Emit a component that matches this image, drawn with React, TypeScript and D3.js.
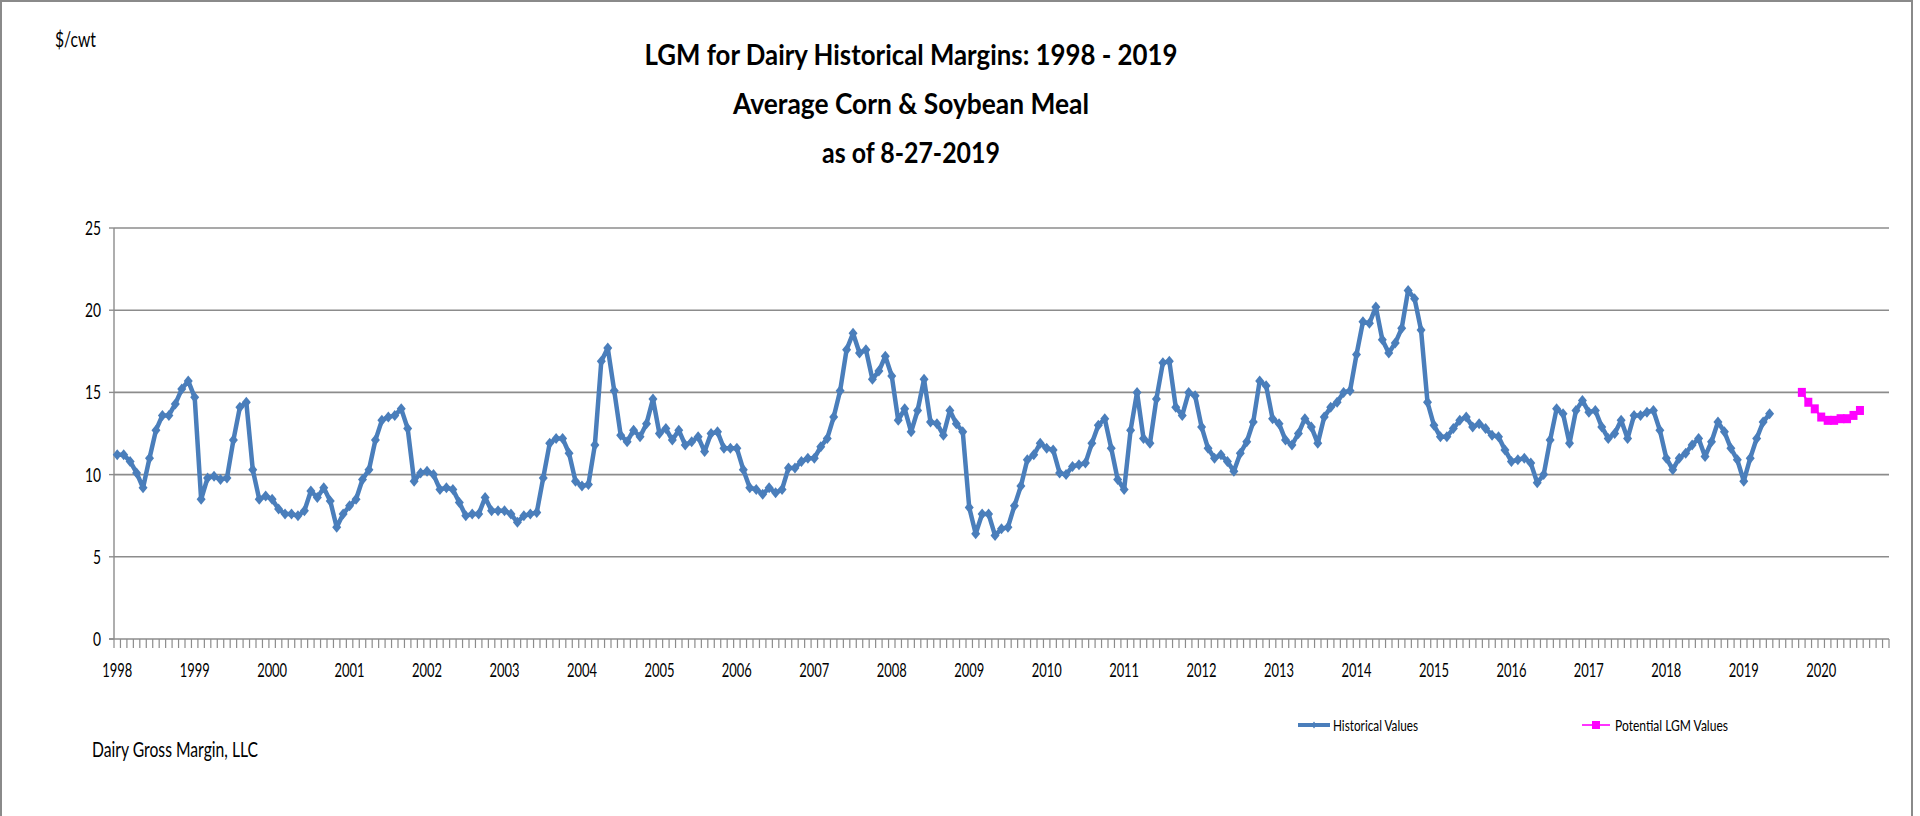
import { useEffect, useRef } from "react";
import * as d3 from "d3";

// ---- data ($/cwt, monthly) ----
const yearLabels = [
  "1998", "1999", "2000", "2001", "2002", "2003", "2004", "2005",
  "2006", "2007", "2008", "2009", "2010", "2011", "2012", "2013",
  "2014", "2015", "2016", "2017", "2018", "2019", "2020",
];
const monthNames = ["Jan", "Feb", "Mar", "Apr", "May", "Jun", "Jul", "Aug", "Sep", "Oct", "Nov", "Dec"];

// Historical Values, Jan 1998 .. May 2019 (one row per year)
const historicalValues = [
  11.2, 11.2, 10.8, 10.1, 9.2, 11.0, 12.7, 13.6, 13.6, 14.3, 15.2, 15.7,
  14.7, 8.5, 9.8, 9.9, 9.7, 9.8, 12.1, 14.1, 14.4, 10.3, 8.5, 8.7,
  8.5, 7.9, 7.6, 7.6, 7.5, 7.8, 9.0, 8.6, 9.2, 8.4, 6.8, 7.6,
  8.1, 8.5, 9.7, 10.3, 12.1, 13.3, 13.5, 13.6, 14.0, 12.8, 9.6, 10.1,
  10.2, 10.0, 9.1, 9.2, 9.1, 8.3, 7.5, 7.6, 7.6, 8.6, 7.8, 7.8,
  7.8, 7.6, 7.1, 7.5, 7.6, 7.7, 9.8, 11.9, 12.2, 12.2, 11.3, 9.6,
  9.3, 9.4, 11.8, 16.9, 17.7, 15.1, 12.4, 12.0, 12.7, 12.3, 13.1, 14.6,
  12.5, 12.8, 12.1, 12.7, 11.8, 12.0, 12.3, 11.4, 12.5, 12.6, 11.6, 11.6,
  11.6, 10.3, 9.2, 9.1, 8.8, 9.2, 8.9, 9.1, 10.4, 10.4, 10.8, 11.0,
  11.0, 11.7, 12.2, 13.5, 15.1, 17.6, 18.6, 17.4, 17.6, 15.8, 16.3, 17.2,
  16.0, 13.3, 14.0, 12.6, 13.9, 15.8, 13.2, 13.1, 12.4, 13.9, 13.1, 12.6,
  8.0, 6.4, 7.6, 7.6, 6.3, 6.7, 6.8, 8.1, 9.3, 10.9, 11.2, 11.9,
  11.6, 11.5, 10.1, 10.0, 10.5, 10.6, 10.7, 11.9, 13.0, 13.4, 11.6, 9.7,
  9.1, 12.7, 15.0, 12.2, 11.9, 14.6, 16.8, 16.9, 14.1, 13.6, 15.0, 14.8,
  12.9, 11.6, 11.0, 11.2, 10.8, 10.2, 11.3, 12.0, 13.2, 15.7, 15.4, 13.4,
  13.1, 12.1, 11.8, 12.5, 13.4, 12.9, 11.9, 13.5, 14.1, 14.4, 15.0, 15.1,
  17.3, 19.3, 19.2, 20.2, 18.2, 17.4, 18.0, 18.9, 21.2, 20.7, 18.8, 14.4,
  13.0, 12.3, 12.3, 12.8, 13.3, 13.5, 12.9, 13.1, 12.8, 12.4, 12.3, 11.5,
  10.8, 10.9, 11.0, 10.7, 9.5, 10.0, 12.1, 14.0, 13.7, 11.9, 13.9, 14.5,
  13.8, 13.9, 12.9, 12.2, 12.5, 13.3, 12.2, 13.6, 13.6, 13.8, 13.9, 12.7,
  11.0, 10.3, 11.0, 11.3, 11.8, 12.2, 11.1, 12.0, 13.2, 12.6, 11.6, 10.9,
  9.6, 11.0, 12.2, 13.2, 13.7,
];

// Potential LGM Values, Oct 2019 .. Jul 2020
const lgmMonths = [
  "Oct 2019", "Nov 2019", "Dec 2019", "Jan 2020", "Feb 2020",
  "Mar 2020", "Apr 2020", "May 2020", "Jun 2020", "Jul 2020",
];
const lgmValues = [15.0, 14.4, 14.0, 13.5, 13.3, 13.3, 13.4, 13.4, 13.6, 13.9];

const yTicks = [0, 5, 10, 15, 20, 25];

// axis runs Jan 1998 .. Nov 2020
const categories = yearLabels
  .flatMap((y) => monthNames.map((m) => `${m} ${y}`))
  .slice(0, 275);

const FONT = "Lato, 'Open Sans', sans-serif";
const BLUE = "#4a7ebb";
const PINK = "#ff00ff";
const GRID = "#8c8c8c";

export default function App() {
  const svgRef = useRef<SVGSVGElement>(null);

  useEffect(() => {
    document.body.style.margin = "0";
    if (!svgRef.current) return;
    const svg = d3.select(svgRef.current);
    svg.selectAll("*").remove();

    const left = 114;
    const right = 1889;
    const top = 228;
    const bottom = 639;

    const x = d3.scaleBand<string>().domain(categories).range([left, right]).padding(0);
    const xc = (c: string) => (x(c) ?? 0) + x.bandwidth() / 2;
    const y = d3.scaleLinear().domain([0, 25]).range([bottom, top]);

    const text = (
      str: string,
      tx: number,
      ty: number,
      size: number,
      len: number,
      anchor = "start",
      weight = "normal"
    ) =>
      svg
        .append("text")
        .attr("x", tx)
        .attr("y", ty)
        .attr("text-anchor", anchor)
        .attr("textLength", len)
        .attr("lengthAdjust", "spacingAndGlyphs")
        .style("font-family", FONT)
        .style("font-size", `${size}px`)
        .style("font-weight", weight)
        .style("fill", "#000")
        .text(str);

    // outer frame
    svg
      .append("rect")
      .attr("x", 1)
      .attr("y", 1)
      .attr("width", 1911)
      .attr("height", 840)
      .attr("fill", "#fff")
      .attr("stroke", "#8a8a8a")
      .attr("stroke-width", 2);

    // titles
    text("LGM for Dairy Historical Margins: 1998 - 2019", 911, 65, 28, 533, "middle", "bold");
    text("Average Corn & Soybean Meal", 911, 114, 28, 356, "middle", "bold");
    text("as of 8-27-2019", 911, 163, 28, 178, "middle", "bold");
    text("$/cwt", 55, 47, 21, 41);

    // gridlines
    svg
      .append("g")
      .selectAll("line")
      .data(yTicks.filter((t) => t > 0))
      .join("line")
      .attr("x1", left)
      .attr("x2", right)
      .attr("y1", (d) => y(d))
      .attr("y2", (d) => y(d))
      .attr("stroke", GRID)
      .attr("stroke-width", 1.6);

    // axes
    svg
      .append("line")
      .attr("x1", left)
      .attr("x2", left)
      .attr("y1", top)
      .attr("y2", bottom)
      .attr("stroke", GRID)
      .attr("stroke-width", 1.4);
    svg
      .append("line")
      .attr("x1", left - 5)
      .attr("x2", right)
      .attr("y1", bottom)
      .attr("y2", bottom)
      .attr("stroke", GRID)
      .attr("stroke-width", 1.6);

    // y tick marks + labels
    svg
      .append("g")
      .selectAll("line")
      .data(yTicks)
      .join("line")
      .attr("x1", left - 5)
      .attr("x2", left)
      .attr("y1", (d) => y(d))
      .attr("y2", (d) => y(d))
      .attr("stroke", GRID)
      .attr("stroke-width", 1.4);
    yTicks.forEach((t) => {
      const s = String(t);
      text(s, 101, y(t) + 7, 19, s.length * 8, "end");
    });

    // monthly x tick marks
    const tickXs = categories.map((c) => x(c) ?? 0).concat([right]);
    svg
      .append("g")
      .selectAll("line")
      .data(tickXs)
      .join("line")
      .attr("x1", (d) => d)
      .attr("x2", (d) => d)
      .attr("y1", bottom)
      .attr("y2", bottom + 9)
      .attr("stroke", GRID)
      .attr("stroke-width", 1.2);

    // year labels
    yearLabels.forEach((yr) => {
      text(yr, xc(`Jan ${yr}`), 677, 19, 30, "middle");
    });

    // historical series
    const histPts = historicalValues.map((v, i) => ({ c: categories[i], v }));
    const line = d3
      .line<{ c: string; v: number }>()
      .x((d) => xc(d.c))
      .y((d) => y(d.v));
    svg
      .append("path")
      .datum(histPts)
      .attr("d", line)
      .attr("fill", "none")
      .attr("stroke", BLUE)
      .attr("stroke-width", 4.5)
      .attr("stroke-linejoin", "round");
    svg
      .append("g")
      .selectAll("path")
      .data(histPts)
      .join("path")
      .attr("transform", (d) => `translate(${xc(d.c)},${y(d.v)})`)
      .attr("d", "M0,-5.5L4.5,0L0,5.5L-4.5,0Z")
      .attr("fill", BLUE);

    // potential LGM series
    const lgmPts = lgmValues.map((v, i) => ({ c: lgmMonths[i], v }));
    svg
      .append("path")
      .datum(lgmPts)
      .attr("d", line)
      .attr("fill", "none")
      .attr("stroke", PINK)
      .attr("stroke-width", 2);
    svg
      .append("g")
      .selectAll("rect")
      .data(lgmPts)
      .join("rect")
      .attr("x", (d) => xc(d.c) - 4)
      .attr("y", (d) => y(d.v) - 4.5)
      .attr("width", 8)
      .attr("height", 9)
      .attr("fill", PINK);

    // legend
    svg
      .append("line")
      .attr("x1", 1298)
      .attr("x2", 1330)
      .attr("y1", 725)
      .attr("y2", 725)
      .attr("stroke", BLUE)
      .attr("stroke-width", 4);
    svg
      .append("path")
      .attr("transform", "translate(1314,725)")
      .attr("d", "M0,-3.5L2.5,0L0,3.5L-2.5,0Z")
      .attr("fill", BLUE);
    text("Historical Values", 1333, 731, 16, 85);

    svg
      .append("line")
      .attr("x1", 1582)
      .attr("x2", 1610)
      .attr("y1", 725)
      .attr("y2", 725)
      .attr("stroke", PINK)
      .attr("stroke-width", 1.6);
    svg
      .append("rect")
      .attr("x", 1592)
      .attr("y", 721)
      .attr("width", 8)
      .attr("height", 8)
      .attr("fill", PINK);
    text("Potential LGM Values", 1615, 731, 16, 113);

    // footer
    text("Dairy Gross Margin, LLC", 92, 757, 21, 166);
  }, []);

  return (
    <div style={{ width: 1920, height: 816, overflow: "hidden" }}>
      <svg ref={svgRef} width={1920} height={816} style={{ display: "block" }} />
    </div>
  );
}
